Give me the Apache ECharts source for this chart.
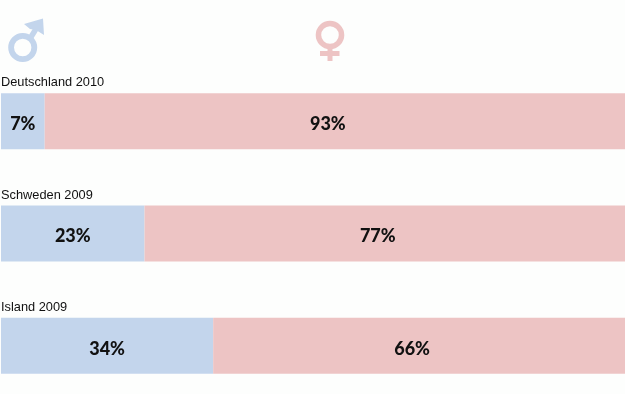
<!DOCTYPE html>
<html>
<head>
<meta charset="utf-8">
<style>
  html, body { margin: 0; padding: 0; background: #fdfefd; }
  #barChart { width: 625px; height: 394px; }
</style>
<script src="https://cdn.jsdelivr.net/npm/echarts@6/dist/echarts.min.js"></script>
</head>
<body>
<div id="barChart"></div>
<script>
const categories = ['Deutschland 2010', 'Schweden 2009', 'Island 2009']
const maleValues = [7, 23, 34]
const femaleValues = [93, 77, 66]
const maleColor = '#c3d5ec'
const femaleColor = '#edc4c4'

const myBarChart = echarts.init(document.getElementById('barChart'), null, { renderer: 'canvas' })

function barSeries(name, values, color, labelShift) {
  return {
    name: name,
    type: 'bar',
    stack: 'share',
    data: values,
    barWidth: 56,
    itemStyle: { color: color },
    label: {
      show: true,
      position: 'inside',
      offset: [labelShift, 3],
      formatter: '{c}%',
      color: '#111',
      fontFamily: 'Lato',
      fontWeight: 900,
      fontSize: 18
    }
  }
}

myBarChart.setOption({
  animation: false,
  backgroundColor: '#fdfefd',
  grid: { left: 1, top: 65, width: 624, height: 337, outerBoundsMode: 'none' },
  xAxis: { type: 'value', min: 0, max: 100, show: false },
  yAxis: {
    type: 'category',
    inverse: true,
    data: categories,
    z: 10,
    axisLine: { show: false },
    axisTick: { show: false },
    axisLabel: {
      inside: true,
      interval: 0,
      hideOverlap: false,
      margin: 0,
      align: 'left',
      verticalAlign: 'bottom',
      color: '#111',
      fontFamily: 'Liberation Sans',
      fontSize: 12.8,
      padding: [0, 0, 32, 0]
    }
  },
  graphic: [
    { type: 'ring', shape: { cx: 22.7, cy: 47.5, r: 14.5, r0: 8.7 }, style: { fill: maleColor } },
    { type: 'polyline', shape: { points: [[31, 37], [39, 24]] }, style: { stroke: maleColor, lineWidth: 5.5, fill: null } },
    { type: 'polygon', shape: { points: [[24, 24], [43, 18.5], [44, 35], [36, 30], [30, 29]] }, style: { fill: maleColor } },
    { type: 'ring', shape: { cx: 330, cy: 35, r: 14.3, r0: 8.8 }, style: { fill: femaleColor } },
    { type: 'rect', shape: { x: 327.5, y: 48, width: 5, height: 13 }, style: { fill: femaleColor } },
    { type: 'rect', shape: { x: 320, y: 51, width: 19.5, height: 5 }, style: { fill: femaleColor } }
  ],
  series: [
    barSeries('Männer', maleValues, maleColor, 0),
    barSeries('Frauen', femaleValues, femaleColor, -7)
  ]
})
</script>
</body>
</html>
